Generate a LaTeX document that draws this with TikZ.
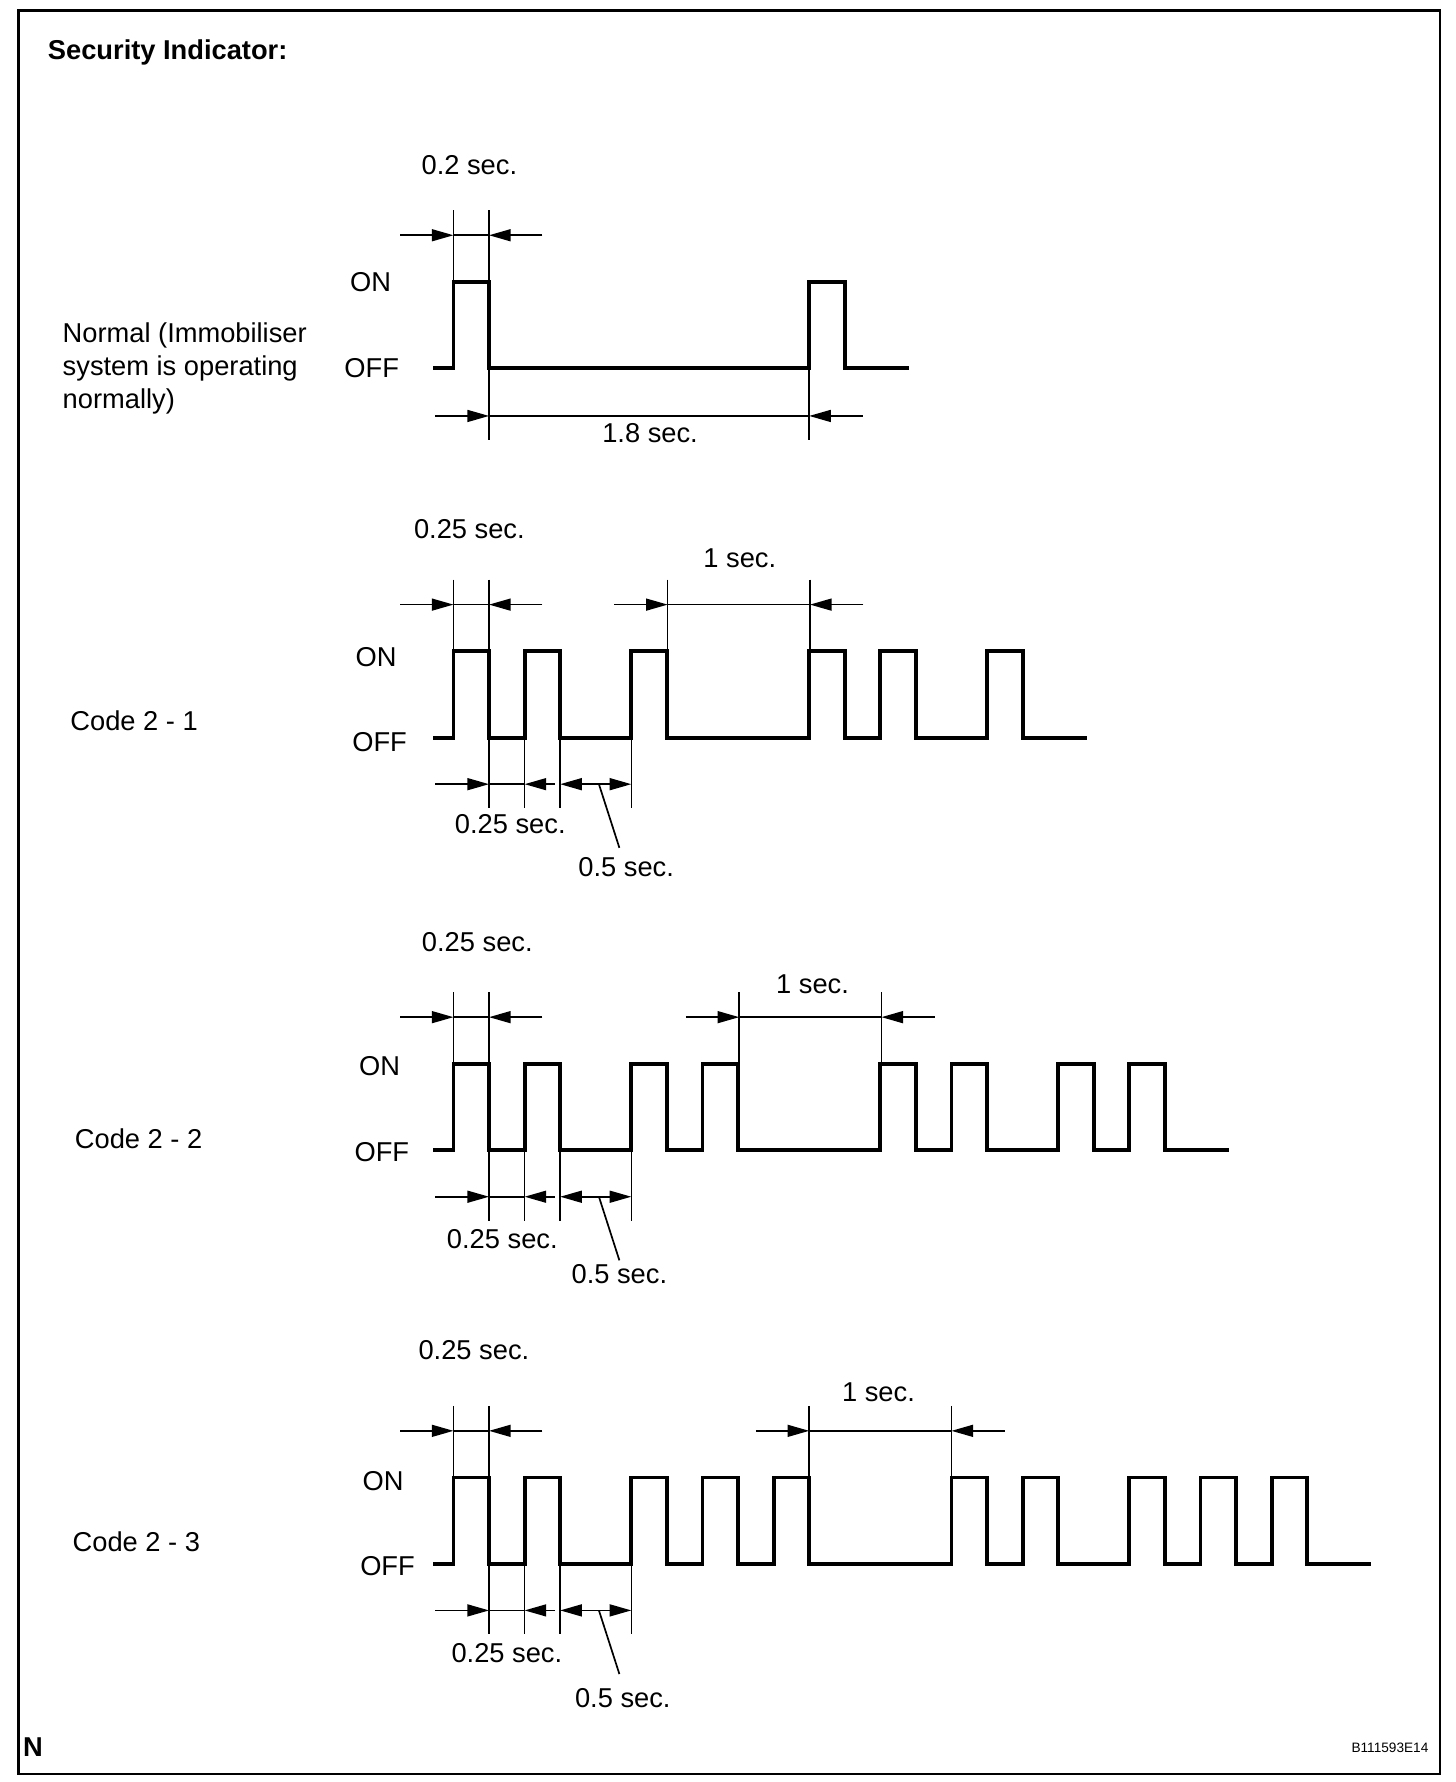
\documentclass[tikz,border=0pt]{standalone}
\usepackage{fontspec}
\setmainfont{Liberation Sans}
\usetikzlibrary{arrows.meta}
\newcommand\ux[1]{399+(#1)*31.3}
% waveform: #1 ON y, #2 pulse list, #3 end unit
\newcommand\wavetrain[3]{%
  \draw[wave] (381,#1+76) \foreach \k in {#2} { -- ({\ux{\k}},#1+76) -- ({\ux{\k}},#1) -- ({\ux{\k+1}},#1) -- ({\ux{\k+1}},#1+76) } -- ({\ux{#3}},#1+76);}
% top dimension: #1 ON y, #2 left x, #3 right x
\newcommand\topdim[3]{%
  \draw[thinl] (#2,#1-63) -- (#2,#1);
  \draw[thinl] (#3,#1-63) -- (#3,#1);
  \draw[dimarr] (#2-47,#1-41) -- (#2,#1-41);
  \draw[dimarr] (#3+47,#1-41) -- (#3,#1-41);
  \draw[thinl] (#2,#1-41) -- (#3,#1-41);}
% bottom dimensions of the code charts: #1 OFF y
\newcommand\botdim[1]{%
  \foreach \k in {1,2,3,5} {\draw[thinl] ({\ux{\k}},#1) -- ({\ux{\k}},#1+62);}
  \draw[dimarr] (383,#1+41) -- ({\ux{1}},#1+41);
  \draw[thinl] ({\ux{1}},#1+41) -- ({\ux{2}},#1+41);
  \draw[dimarr] (488,#1+41) -- ({\ux{2}},#1+41);
  \draw[dimdbl] ({\ux{3}},#1+41) -- ({\ux{5}},#1+41);
  \draw[leader] (527,#1+41) -- (545,#1+97);}
\begin{document}
\begin{tikzpicture}[x=1pt,y=-1pt,
  wave/.style={line width=3.4pt, line join=miter},
  thinl/.style={line width=1.4pt},
  leader/.style={line width=1.5pt},
  dimarr/.style={line width=1.4pt, -{Triangle[length=19pt,width=10.5pt]}},
  dimdbl/.style={line width=1.4pt, {Triangle[length=19pt,width=10.5pt]}-{Triangle[length=19pt,width=10.5pt]}},
  lbl/.style={font=\fontsize{24}{29}\selectfont, inner sep=0pt},
  frame/.style={line width=2.5pt}]
\useasboundingbox (0,0) rectangle (1281,1568);
\fill[white] (0,0) rectangle (1281,1568);
\draw[frame] (16,9) rectangle (1267,1561);

\node[lbl, font=\fontsize{24}{29}\selectfont\bfseries, anchor=base west] (title) at (42,52.5) {Security Indicator:};
\node[lbl, font=\fontsize{24}{29}\selectfont\bfseries] (n) at (29,1537) {N};
\node[lbl, font=\fontsize{12}{14}\selectfont] (code) at (1223,1538) {B111593E14};

% ---------- Normal ----------
\node[lbl, anchor=base west] (nl1) at (55,301.6) {Normal (Immobiliser};
\node[lbl, anchor=base west] (nl2) at (55,330.6) {system is operating};
\node[lbl, anchor=base west] (nl3) at (55,359.6) {normally)};
\node[lbl] (non) at (326,248) {ON};
\node[lbl] (noff) at (327,324) {OFF};
\node[lbl] (nt1) at (413,145) {0.2 sec.};
\node[lbl] (nt2) at (572,381) {1.8 sec.};
\wavetrain{248}{0,10}{12.8}
\topdim{248}{399}{430.3}
\draw[thinl] ({\ux{1}},324) -- ({\ux{1}},387);
\draw[thinl] ({\ux{10}},324) -- ({\ux{10}},387);
\draw[dimarr] (383,366) -- ({\ux{1}},366);
\draw[dimarr] (759,366) -- ({\ux{10}},366);
\draw[thinl] ({\ux{1}},366) -- ({\ux{10}},366);

% ---------- Code 2 - 1 ----------
\node[lbl] (c1) at (118,634) {Code 2 - 1};
\node[lbl] (c1on) at (331,578) {ON};
\node[lbl] (c1off) at (334,653) {OFF};
\node[lbl] (c1t1) at (413,466) {0.25 sec.};
\node[lbl] (c1t2) at (651,491) {1 sec.};
\node[lbl] (c1t3) at (449,725) {0.25 sec.};
\node[lbl] (c1t4) at (551,763) {0.5 sec.};
\wavetrain{573}{0,2,5,10,12,15}{17.8}
\topdim{573}{399}{430.3}
\topdim{573}{587.5}{712.7}
\botdim{649}

% ---------- Code 2 - 2 ----------
\node[lbl] (c2) at (122,1002) {Code 2 - 2};
\node[lbl] (c2on) at (334,938) {ON};
\node[lbl] (c2off) at (336,1014) {OFF};
\node[lbl] (c2t1) at (420,829) {0.25 sec.};
\node[lbl] (c2t2) at (715,866) {1 sec.};
\node[lbl] (c2t3) at (442,1090) {0.25 sec.};
\node[lbl] (c2t4) at (545,1121) {0.5 sec.};
\wavetrain{936}{0,2,5,7,12,14,17,19}{21.8}
\topdim{936}{399}{430.3}
\topdim{936}{650.4}{775.6}
\botdim{1012}

% ---------- Code 2 - 3 ----------
\node[lbl] (c3) at (120,1357) {Code 2 - 3};
\node[lbl] (c3on) at (337,1303) {ON};
\node[lbl] (c3off) at (341,1378) {OFF};
\node[lbl] (c3t1) at (417,1188) {0.25 sec.};
\node[lbl] (c3t2) at (773,1225) {1 sec.};
\node[lbl] (c3t3) at (446,1455) {0.25 sec.};
\node[lbl] (c3t4) at (548,1494) {0.5 sec.};
\wavetrain{1300}{0,2,5,7,9,14,16,19,21,23}{25.8}
\topdim{1300}{399}{430.3}
\topdim{1300}{712}{837.2}
\botdim{1376}
\end{tikzpicture}
\end{document}
